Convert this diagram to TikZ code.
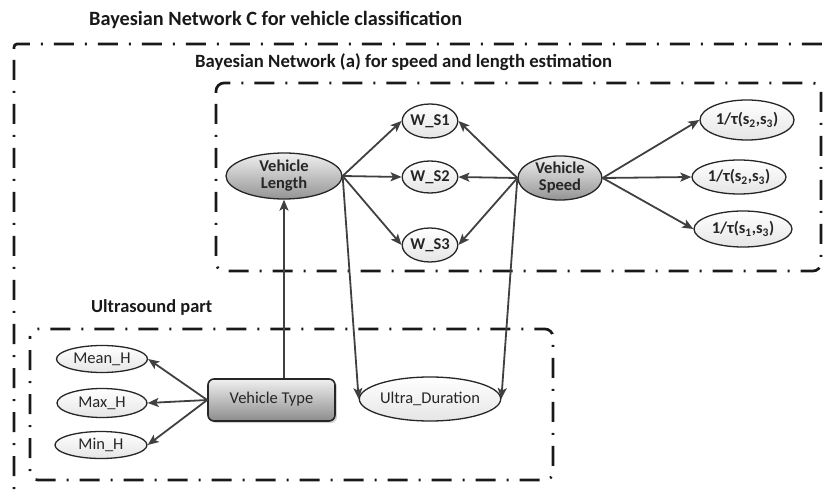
\documentclass[tikz,border=0pt]{standalone}
\usepackage{fontspec}
\setmainfont{Carlito}
\usetikzlibrary{arrows.meta,shapes.geometric,shadows}
\begin{document}
\begin{tikzpicture}[x=1pt,y=-1pt,
  every node/.style={font=\fontsize{16.5}{17}\selectfont, text=black!85, inner sep=0pt, align=center},
  boldlabel/.style={font=\fontsize{16.5}{17}\selectfont\bfseries},
  frame/.style={line width=2.7pt, draw=black!90, dash pattern=on 2pt off 11pt on 20pt off 11pt, rounded corners=8pt},
  heading/.style={font=\fontsize{#1}{#1}\selectfont\bfseries, anchor=west, text=black!90},
  plainvar/.style={ellipse, draw=black!85, line width=1.3pt, top color=white, bottom color=black!10},
  keyvar/.style={ellipse, draw=black!85, line width=1.3pt, top color=black!6, bottom color=black!42, boldlabel},
  typebox/.style={rectangle, rounded corners=6pt, draw=black!85, line width=1.6pt,
    top color=black!6, bottom color=black!45,
    drop shadow={shadow xshift=2pt, shadow yshift=-2pt, opacity=0.35}},
  conn/.style={draw=black!75, line width=1.8pt, -{Stealth[length=11pt,width=9pt,inset=2.5pt]}}
]
\useasboundingbox (0,0) rectangle (830,494);

% frames
\draw[frame, rounded corners=3pt] (14,44) rectangle (880,560);
\draw[frame] (216,83) rectangle (821,271);
\draw[frame] (30,329) rectangle (553,480);

% headings
\node[heading=20.3] (hc) at (89,20) {Bayesian Network C for vehicle classification};
\node[heading=18.7] (ha) at (195,62) {Bayesian Network (a) for speed and length estimation};
\node[heading=18.4] (hu) at (91,307) {Ultrasound part};

% speed and length network
\node[keyvar, minimum width=116, minimum height=46] (VL) at (284,176) {Vehicle\\Length};
\node[keyvar, minimum width=84, minimum height=42] (VS) at (560,178) {Vehicle\\Speed};
\node[plainvar, boldlabel, minimum width=52, minimum height=34] (W1) at (430,121) {W\_S1};
\node[plainvar, boldlabel, minimum width=52, minimum height=32] (W2) at (430,177) {W\_S2};
\node[plainvar, boldlabel, minimum width=52, minimum height=34] (W3) at (430,245) {W\_S3};
\node[plainvar, boldlabel, minimum width=94, minimum height=40] (T1) at (747,120) {1/τ(s\textsubscript{2},s\textsubscript{3})};
\node[plainvar, boldlabel, minimum width=94, minimum height=34] (T2) at (739,177) {1/τ(s\textsubscript{2},s\textsubscript{3})};
\node[plainvar, boldlabel, minimum width=98, minimum height=36] (T3) at (743,229) {1/τ(s\textsubscript{1},s\textsubscript{3})};

% ultrasound part
\node[typebox, minimum width=127, minimum height=42] (VT) at (271.5,400) {\raisebox{4pt}{Vehicle Type}};
\node[plainvar, minimum width=91, minimum height=27] (MeanH) at (102,359) {Mean\_H};
\node[plainvar, minimum width=90, minimum height=29] (MaxH) at (102,403) {Max\_H};
\node[plainvar, minimum width=92, minimum height=27] (MinH) at (101,445) {Min\_H};
\node[plainvar, minimum width=131, minimum height=44] (UD) at (430,399) {Ultra\_Duration};

% connectors
\foreach \w in {W1,W2,W3} {
  \draw[conn] (VL.east) -- (\w.west);
  \draw[conn] (VS.west) -- (\w.east);
}
\foreach \t in {T1,T2,T3} \draw[conn] (VS.east) -- (\t.west);
\foreach \h in {MeanH,MaxH,MinH} \draw[conn] (VT.west) -- (\h.east);
\draw[conn] (VL.south |- VT.north) -- (VL.south);
\draw[conn] (VL.east) -- (UD.west);
\draw[conn] (VS.west) -- (UD.east);
\end{tikzpicture}
\end{document}
